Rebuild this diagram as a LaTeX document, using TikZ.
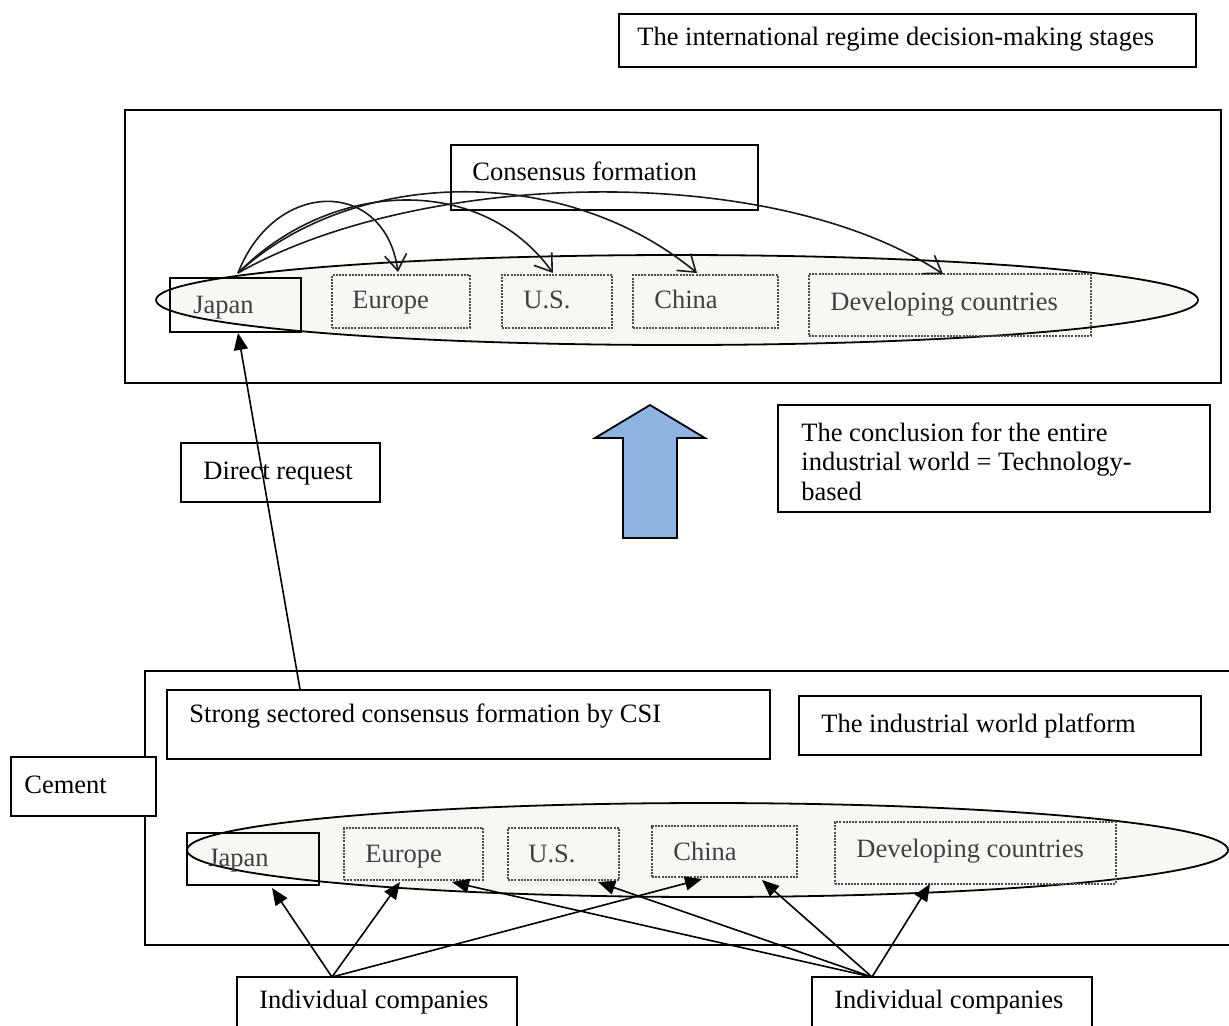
\documentclass[tikz,border=0pt]{standalone}
\usepackage{fontspec}
\setmainfont{Liberation Serif}
\usetikzlibrary{shapes.geometric,arrows.meta,fit,calc}
\definecolor{ellfill}{HTML}{F7F7F3}
\definecolor{bigarrow}{HTML}{8DB3E2}
\begin{document}
\begin{tikzpicture}[x=0.5pt,y=-0.5pt,
 box/.style={draw, line width=0.9pt, inner sep=0pt},
 wbox/.style={box, fill=white},
 dbox/.style={draw=black!70, dash pattern=on 1pt off 0.6pt, line width=0.8pt, inner sep=0pt},
 txt/.style={font=\fontsize{13.25}{15}\selectfont, inner sep=0pt, anchor=base west},
 gtxt/.style={txt, text=black!75},
 ell/.style={ellipse, draw, line width=0.9pt, fill=ellfill, inner sep=0pt},
 arcarrow/.style={draw=black!90, line width=0.8pt, -{Straight Barb[length=8pt,width=11pt]}},
 fatarrow/.style={line width=0.8pt, -{Triangle[length=8.5pt,width=7pt]}}]
\useasboundingbox (0,0) rectangle (1229,1025);
\clip (0,0) rectangle (1229,1025);

% title
\node[box, fit={(619,14)(1196,67)}] (title) {};
\node[txt] (titleT) at (637,45) {The international regime decision-making stages};

% top frame
\node[box, fit={(125,110)(1221,383)}] (topframe) {};
\node[box, fit={(451,145)(758,210)}] (cons) {};
\node[txt] (consT) at (472,180) {Consensus formation};

\node[ell, minimum width=521pt, minimum height=45pt] (ellA) at (677,300) {};
\node[box, fit={(170,278)(301,332)}] (jpA) {};
\node[gtxt] (jpAT) at (193,313) {Japan};
\node[dbox, fit={(332,275)(470,328)}] (euA) {};
\node[gtxt] (euAT) at (352,308) {Europe};
\node[dbox, fit={(502,275)(612,328)}] (usA) {};
\node[gtxt] (usAT) at (523,308) {U.S.};
\node[dbox, fit={(633,275)(778,328)}] (cnA) {};
\node[gtxt] (cnAT) at (654,308) {China};
\node[dbox, fit={(809,274)(1091,336)}] (dvA) {};
\node[gtxt] (dvAT) at (830,310) {Developing countries};

% arcs from Japan
\coordinate (jpTop) at (238,273);
\draw[arcarrow] (jpTop) .. controls (275,178) and (385,178) .. (398,272);
\draw[arcarrow] (jpTop) .. controls (330,180) and (480,172) .. (553,273);
\draw[arcarrow] (jpTop) .. controls (350,170) and (560,160) .. (697,273);
\draw[arcarrow] (jpTop) .. controls (420,170) and (770,160) .. (943,274);

% middle
\node[box, fit={(181,443)(380,502)}] (direct) {};
\node[txt] (directT) at (203,479) {Direct request};

\draw[line width=0.9pt, fill=bigarrow] (650,405) -- (705,438) -- (677,438) -- (677,538)
  -- (623,538) -- (623,438) -- (595,438) -- cycle;

\node[box, fit={(778,405)(1210,512)}] (concl) {};
\node[txt] (conclT1) at (801,441) {The conclusion for the entire};
\node[txt] (conclT2) at (801,470) {industrial world = Technology-};
\node[txt] (conclT3) at (801,500) {based};

% bottom frame (right side outside the picture)
\draw[line width=0.9pt] (1240,671) -- (145,671) -- (145,945) -- (1240,945);
\node[box, fit={(167,690)(770,759)}] (strong) {};
\node[txt] (strongT) at (189,722) {Strong sectored consensus formation by CSI};
\node[box, fit={(799,696)(1201,755)}] (platform) {};
\node[txt] (platformT) at (821,732) {The industrial world platform};
\node[wbox, fit={(11,757)(156,816)}] (cement) {};
\node[txt] (cementT) at (24,793) {Cement};

\node[ell, minimum width=520.5pt, minimum height=47pt] (ellB) at (707.5,850) {};
\node[box, fit={(187,833)(319,885)}] (jpB) {};
\node[gtxt] (jpBT) at (208,866) {Japan};
\node[dbox, fit={(344,828)(483,880)}] (euB) {};
\node[gtxt] (euBT) at (365,862) {Europe};
\node[dbox, fit={(508,828)(619,880)}] (usB) {};
\node[gtxt] (usBT) at (528,862) {U.S.};
\node[dbox, fit={(652,826)(797,877)}] (cnB) {};
\node[gtxt] (cnBT) at (673,860) {China};
\node[dbox, fit={(835,822)(1116,884)}] (dvB) {};
\node[gtxt] (dvBT) at (856,857) {Developing countries};

\node[box, fit={(237,977)(517,1040)}] (icL) {};
\node[txt] (icLT) at (259,1008) {Individual companies};
\node[box, fit={(812,977)(1092,1040)}] (icR) {};
\node[txt] (icRT) at (834,1008) {Individual companies};

% direct request arrow
\draw[fatarrow] (300,0 |- strong.north) -- (238,0 |- jpA.south);

% company arrows
\coordinate (sL) at (332,977);
\coordinate (sR) at (872,977);
\draw[fatarrow] (sL) -- (272,888);
\draw[fatarrow] (sL) -- (400,882);
\draw[fatarrow] (sL) -- (702,879);
\draw[fatarrow] (sR) -- (452,882);
\draw[fatarrow] (sR) -- (598,882);
\draw[fatarrow] (sR) -- (762,880);
\draw[fatarrow] (sR) -- (930,884);
\end{tikzpicture}
\end{document}
